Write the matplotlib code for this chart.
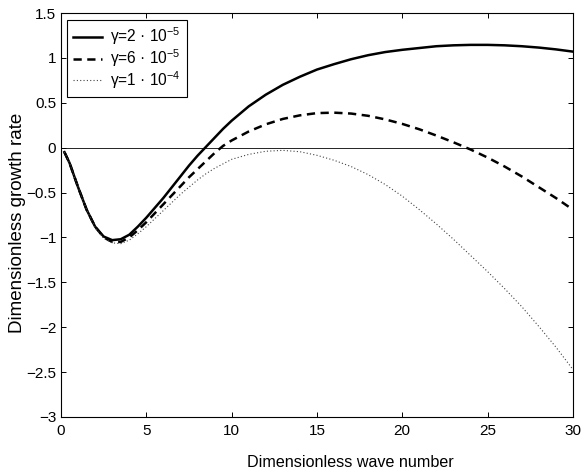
import matplotlib
matplotlib.use("Agg")
import matplotlib.pyplot as plt

plt.rcParams["font.family"] = ["Liberation Sans", "DejaVu Sans"]
plt.rcParams["mathtext.fontset"] = "custom"
plt.rcParams["mathtext.rm"] = "Liberation Sans"
plt.rcParams["mathtext.it"] = "Liberation Sans:italic"

# wave numbers and growth rates
k_vals = [0.2, 0.5, 1.0, 1.5, 2.0, 2.5, 3.0, 3.5, 4.0, 4.5, 5.0, 5.5, 6.0,
          6.5, 7.0, 7.5, 8.0, 8.5, 9.0, 9.5, 10.0, 11.0, 12.0, 13.0, 14.0,
          15.0, 16.0, 17.0, 18.0, 19.0, 20.0, 21.0, 22.0, 23.0, 24.0, 25.0,
          26.0, 27.0, 28.0, 29.0, 30.0]

growth_g2e5 = [-0.05, -0.17, -0.44, -0.69, -0.88, -0.99, -1.03, -1.02, -0.97,
               -0.88, -0.78, -0.67, -0.56, -0.44, -0.32, -0.20, -0.09, 0.01,
               0.11, 0.21, 0.30, 0.46, 0.59, 0.70, 0.79, 0.87, 0.93, 0.985,
               1.03, 1.065, 1.09, 1.11, 1.13, 1.14, 1.145, 1.145, 1.14, 1.13,
               1.115, 1.095, 1.07]

growth_g6e5 = [-0.05, -0.17, -0.44, -0.69, -0.88, -1.00, -1.05, -1.05, -1.00,
               -0.92, -0.83, -0.73, -0.63, -0.53, -0.43, -0.33, -0.24, -0.15,
               -0.06, 0.02, 0.08, 0.18, 0.26, 0.32, 0.36, 0.385, 0.39, 0.38,
               0.355, 0.315, 0.265, 0.205, 0.135, 0.06, -0.02, -0.11, -0.21,
               -0.32, -0.44, -0.56, -0.69]

growth_g1e4 = [-0.05, -0.17, -0.44, -0.69, -0.89, -1.01, -1.06, -1.07, -1.03,
               -0.96, -0.88, -0.79, -0.70, -0.61, -0.52, -0.44, -0.36, -0.29,
               -0.23, -0.18, -0.13, -0.075, -0.04, -0.03, -0.045, -0.085,
               -0.14, -0.21, -0.30, -0.41, -0.54, -0.69, -0.85, -1.02, -1.20,
               -1.38, -1.57, -1.77, -1.99, -2.22, -2.47]

labels = [r"γ=2 · 10$^{-5}$", r"γ=6 · 10$^{-5}$", r"γ=1 · 10$^{-4}$"]

fig = plt.figure(figsize=(5.81, 4.73), dpi=100)
ax = fig.add_axes([0.105, 0.1184, 0.881, 0.8541])

ax.axhline(0, color="k", lw=0.6)
ax.plot(k_vals, growth_g2e5, color="k", lw=1.8, label=labels[0])
ax.plot(k_vals, growth_g6e5, color="k", lw=1.8, dashes=(3.3, 2.2),
        label=labels[1])
ax.plot(k_vals, growth_g1e4, color="#444444", lw=0.8,
        linestyle=(0, (1, 2)), label=labels[2])

ax.set_xlim(0, 30)
ax.set_ylim(-3, 1.5)
ax.set_xticks([0, 5, 10, 15, 20, 25, 30])
ax.set_yticks([-3, -2.5, -2, -1.5, -1, -0.5, 0, 0.5, 1, 1.5])
ax.set_yticklabels(["\u22123", "\u22122.5", "\u22122", "\u22121.5", "\u22121",
                    "\u22120.5", "0", "0.5", "1", "1.5"])

ax.tick_params(direction="in", length=3.5, width=0.7, top=True, right=True,
               labelsize=11)
ax.tick_params(axis="x", pad=5)
ax.tick_params(axis="y", pad=3.5)
for sp in ax.spines.values():
    sp.set_linewidth(0.8)

ax.set_xlabel("Dimensionless wave number", fontsize=11.6)
ax.xaxis.set_label_coords(0.566, -0.093)
ax.set_ylabel("Dimensionless growth rate", fontsize=13.5)
ax.yaxis.set_label_coords(-0.068, 0.481)

leg = ax.legend(loc="upper left", bbox_to_anchor=(0.012, 0.983),
                borderaxespad=0, fancybox=False, framealpha=1,
                edgecolor="k", fontsize=11.2, handlelength=1.85,
                handletextpad=0.55, labelspacing=0.0, borderpad=0.38)
leg.get_frame().set_linewidth(0.8)

fig.savefig("out.png", dpi=100)
